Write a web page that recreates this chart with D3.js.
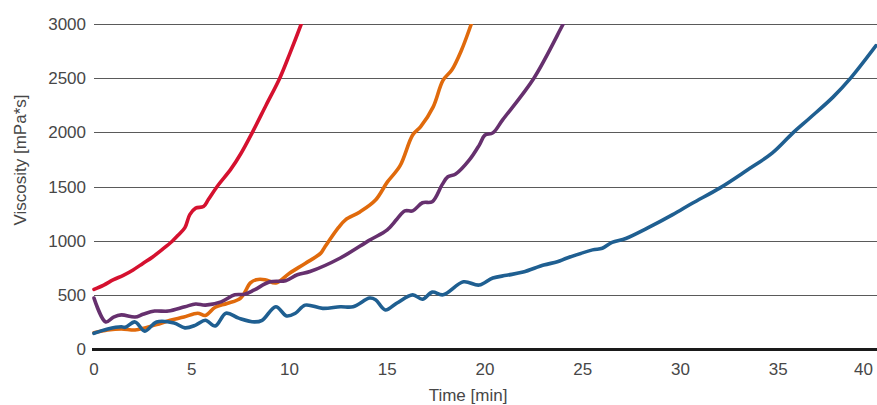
<!DOCTYPE html>
<html>
<head>
<meta charset="utf-8">
<script src="https://cdn.jsdelivr.net/npm/d3@7"></script>
<style>
  html, body { margin: 0; padding: 0; background: #fff; }
  svg { display: block; }
  text { font-family: "Liberation Sans", Arial, sans-serif; fill: #474747; }
</style>
</head>
<body>
<svg id="chart" width="877" height="405"></svg>
<script>
// Viscosity over time for four formulations (min, mPa*s)
const redTime = [0, 0.5, 1, 1.5, 2, 2.5, 3, 3.5, 4, 4.3, 4.65, 4.9, 5.2, 5.6, 5.85, 6.3, 7, 7.5, 8.1, 8.8, 9.5, 10, 10.6, 10.9];
const redVisc = [550, 590, 640, 680, 730, 790, 850, 920, 995, 1050, 1120, 1240, 1300, 1315, 1380, 1500, 1660, 1800, 2000, 2250, 2500, 2720, 3000, 3150];

const orangeTime = [0, 0.7, 1.4, 2.1, 2.6, 3.2, 3.9, 4.6, 5.3, 5.7, 6.2, 6.8, 7.5, 8.0, 8.3, 8.75, 9.3, 10.0, 10.8, 11.6, 11.8, 12.5, 12.85, 13.6, 14.4, 15.0, 15.65, 16.3, 16.7, 17.35, 17.85, 18.3, 18.8, 19.3, 19.6];
const orangeVisc = [150, 175, 185, 175, 195, 225, 265, 295, 330, 310, 385, 420, 470, 610, 640, 640, 610, 700, 790, 885, 940, 1120, 1190, 1265, 1375, 1540, 1690, 1975, 2050, 2235, 2480, 2575, 2760, 3000, 3150];

const purpleTime = [0, 0.6, 1.0, 1.4, 2.1, 2.5, 3.1, 3.8, 4.65, 5.2, 5.7, 6.5, 7.2, 7.7, 8.2, 9.0, 9.8, 10.4, 11.05, 12.6, 14.1, 15.0, 15.5, 15.9, 16.3, 16.8, 17.3, 17.8, 18.1, 18.5, 19.2, 19.7, 20.0, 20.4, 20.9, 22.5, 24.0, 24.3];
const purpleVisc = [470, 250, 295, 315, 295, 320, 350, 350, 390, 415, 405, 435, 500, 505, 545, 620, 630, 685, 715, 840, 1005, 1100, 1200, 1275, 1275, 1350, 1360, 1515, 1590, 1615, 1745, 1880, 1975, 1995, 2115, 2500, 3000, 3100];

const blueTime = [0, 0.7, 1.4, 1.6, 2.1, 2.6, 3.2, 4.1, 4.65, 5.2, 5.7, 6.2, 6.75, 7.4, 8.2, 8.6, 9.3, 9.85, 10.3, 10.8, 11.7, 12.6, 13.25, 14.1, 14.4, 14.9, 15.5, 16.3, 16.8, 17.3, 17.85, 18.9, 19.7, 20.4, 21.1, 21.95, 23.0, 23.7, 24.2, 25.5, 26.0, 26.5, 27.2, 28.3, 29.6, 30.6, 32.0, 33.4, 34.7, 35.75, 36.6, 37.8, 38.7, 40.0];
const blueVisc = [145, 185, 205, 200, 250, 165, 250, 240, 195, 220, 265, 212, 330, 285, 250, 265, 390, 305, 330, 405, 375, 390, 390, 470, 455, 360, 425, 500, 460, 525, 500, 620, 590, 655, 680, 710, 775, 805, 840, 915, 930, 985, 1020, 1115, 1240, 1345, 1485, 1650, 1810, 1995, 2130, 2325, 2500, 2800];

const yTicks = [0, 500, 1000, 1500, 2000, 2500, 3000];
const xTicks = [0, 5, 10, 15, 20, 25, 30, 35, 40];

const series = [
  { name: "orange", color: "#e06a0c", t: orangeTime, v: orangeVisc },
  { name: "purple", color: "#66306e", t: purpleTime, v: purpleVisc },
  { name: "red", color: "#d5112f", t: redTime, v: redVisc },
  { name: "blue", color: "#1f5f91", t: blueTime, v: blueVisc }
];

const svg = d3.select("#chart");
const plotLeft = 94, plotRight = 877, plotTop = 24, plotBottom = 349;

const x = d3.scaleLinear().domain([0, 40.05]).range([plotLeft, plotRight]);
const y = d3.scaleLinear().domain([0, 3000]).range([plotBottom, plotTop]);

// horizontal gridlines
svg.append("g")
  .selectAll("line")
  .data(yTicks.filter(d => d > 0))
  .join("line")
  .attr("x1", plotLeft).attr("x2", plotRight)
  .attr("y1", d => Math.round(y(d)) + 0.5).attr("y2", d => Math.round(y(d)) + 0.5)
  .attr("stroke", "#5a5a5a").attr("stroke-width", 1);

// y tick labels
svg.append("g")
  .selectAll("text")
  .data(yTicks)
  .join("text")
  .attr("x", 86).attr("y", d => y(d) + 6)
  .attr("text-anchor", "end")
  .attr("font-size", 17)
  .text(d => d);

// x tick labels
svg.append("g")
  .selectAll("text")
  .data(xTicks)
  .join("text")
  .attr("x", d => d === 40 ? 873 : x(d))
  .attr("y", 375)
  .attr("text-anchor", d => d === 40 ? "end" : "middle")
  .attr("font-size", 17)
  .text(d => d);

// clip curves to the plotting area
svg.append("clipPath").attr("id", "plot-clip")
  .append("rect").attr("x", plotLeft - 4).attr("y", plotTop)
  .attr("width", plotRight - plotLeft + 8).attr("height", plotBottom - plotTop + 4);

const line = d3.line()
  .x(d => x(d[0]))
  .y(d => y(d[1]))
  .curve(d3.curveCatmullRom.alpha(0.5));

svg.append("g").attr("clip-path", "url(#plot-clip)")
  .selectAll("path")
  .data(series)
  .join("path")
  .attr("d", s => line(s.t.map((t, i) => [t, s.v[i]])))
  .attr("fill", "none")
  .attr("stroke", s => s.color)
  .attr("stroke-width", 3.6)
  .attr("stroke-linejoin", "round")
  .attr("stroke-linecap", "round");

// baseline
svg.append("line")
  .attr("x1", plotLeft - 2).attr("x2", plotRight)
  .attr("y1", y(0) + 0.5).attr("y2", y(0) + 0.5)
  .attr("stroke", "#1a1a1a").attr("stroke-width", 3);

// axis titles
svg.append("text")
  .attr("x", 468).attr("y", 401)
  .attr("text-anchor", "middle")
  .attr("font-size", 17)
  .text("Time [min]");

svg.append("text")
  .attr("transform", "translate(26,160) rotate(-90)")
  .attr("text-anchor", "middle")
  .attr("font-size", 17)
  .text("Viscosity [mPa*s]");
</script>
</body>
</html>
